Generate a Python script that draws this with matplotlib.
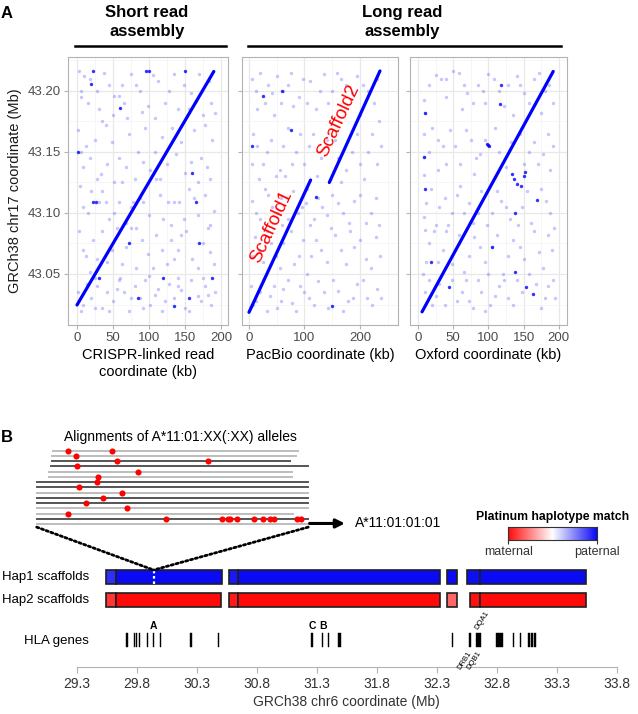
import matplotlib
matplotlib.use("Agg")
import matplotlib.pyplot as plt
import numpy as np
from matplotlib.colors import LinearSegmentedColormap, Normalize
from matplotlib.patches import Rectangle, ConnectionPatch
from matplotlib.lines import Line2D
from matplotlib.ticker import MultipleLocator

plt.rcParams['font.family'] = ['Liberation Sans', 'DejaVu Sans']

# ---------------- panel A data (x in kb, y in Mb on chr17) ----------------
crispr_lines = [([0, 190], [43.0246, 43.216])]
pacbio_lines = [([0, 111], [43.0186, 43.127]), ([144.7, 236], [43.125, 43.2164])]
oxford_lines = [([5.7, 192], [43.019, 43.216])]

crispr_noise = [
  (3, 43.216), (10, 43.212), (18, 43.21), (38, 43.215), (45, 43.205), (52, 43.196), (58, 43.196),
  (75, 43.214), (82, 43.205), (105, 43.213), (112, 43.208), (128, 43.2), (135, 43.214), (148, 43.205),
  (158, 43.198), (170, 43.214), (183, 43.208), (186, 43.19), (5, 43.195), (30, 43.185), (65, 43.19),
  (90, 43.183), (140, 43.185), (175, 43.18), (2, 43.168), (12, 43.155), (25, 43.16), (40, 43.172),
  (48, 43.158), (72, 43.165), (85, 43.15), (95, 43.17), (118, 43.162), (125, 43.14), (145, 43.158),
  (162, 43.168), (172, 43.145), (188, 43.16), (8, 43.138), (33, 43.132), (58, 43.145), (102, 43.135),
  (150, 43.133), (180, 43.138), (4, 43.122), (15, 43.1), (35, 43.118), (45, 43.095), (62, 43.125),
  (75, 43.105), (88, 43.112), (110, 43.128), (120, 43.095), (135, 43.109), (142, 43.109), (155, 43.12),
  (168, 43.098), (178, 43.115), (190, 43.102), (30, 43.109), (40, 43.109), (58, 43.109), (78, 43.109),
  (92, 43.109), (126, 43.109), (3, 43.085), (12, 43.065), (22, 43.078), (42, 43.06), (55, 43.088),
  (68, 43.072), (82, 43.055), (98, 43.066), (110, 43.082), (125, 43.058), (140, 43.07), (152, 43.085),
  (160, 43.062), (175, 43.075), (190, 43.058), (18, 43.052), (48, 43.07), (130, 43.078), (182, 43.088),
  (2, 43.035), (8, 43.025), (14, 43.042), (20, 43.03), (28, 43.04), (35, 43.022), (42, 43.035),
  (50, 43.028), (58, 43.045), (65, 43.035), (72, 43.02), (80, 43.04), (88, 43.03), (95, 43.045),
  (102, 43.025), (112, 43.038), (118, 43.02), (128, 43.042), (135, 43.03), (145, 43.037), (150, 43.022),
  (158, 43.045), (168, 43.032), (178, 43.04), (186, 43.025), (192, 43.035), (25, 43.047), (60, 43.047),
  (100, 43.048), (140, 43.047), (175, 43.047),
  (6, 43.2), (15, 43.19), (28, 43.2), (35, 43.175), (50, 43.18), (62, 43.205), (70, 43.178), (88, 43.2),
  (98, 43.188), (108, 43.178), (122, 43.19), (132, 43.17), (155, 43.185), (165, 43.192), (178, 43.172),
  (192, 43.182), (5, 43.15), (18, 43.145), (28, 43.128), (42, 43.14), (52, 43.125), (68, 43.138),
  (80, 43.128), (92, 43.142), (108, 43.15), (115, 43.128), (138, 43.148), (158, 43.142), (168, 43.125),
  (185, 43.128), (8, 43.105), (20, 43.118), (52, 43.1), (68, 43.092), (82, 43.088), (100, 43.098),
  (115, 43.115), (130, 43.09), (148, 43.095), (162, 43.112), (185, 43.09), (8, 43.07), (28, 43.062),
  (35, 43.085), (62, 43.058), (75, 43.088), (90, 43.078), (105, 43.055), (118, 43.07), (135, 43.062),
  (145, 43.082), (168, 43.055), (185, 43.068), (5, 43.02), (25, 43.022), (45, 43.02), (55, 43.038),
  (75, 43.03), (92, 43.022), (108, 43.033), (122, 43.028), (140, 43.04), (155, 43.02), (172, 43.028),
  (182, 43.033)]
crispr_strong = [
  (22, 43.216), (100, 43.216), (96, 43.216), (150, 43.216), (20, 43.206), (60, 43.186), (22, 43.109),
  (26, 43.109), (165, 43.109), (30, 43.047), (120, 43.047), (188, 43.047), (155, 43.03), (135, 43.024),
  (2, 43.15), (72, 43.075), (85, 43.03), (160, 43.133), (170, 43.075)]

pacbio_noise = [
  (5, 43.21), (20, 43.215), (35, 43.205), (50, 43.212), (62, 43.2), (75, 43.215), (90, 43.195),
  (110, 43.208), (135, 43.214), (150, 43.2), (165, 43.21), (185, 43.198), (205, 43.205), (225, 43.19),
  (235, 43.175), (15, 43.185), (45, 43.18), (80, 43.188), (120, 43.185), (200, 43.18), (8, 43.165),
  (25, 43.14), (40, 43.16), (55, 43.135), (70, 43.17), (85, 43.15), (100, 43.14), (115, 43.165),
  (130, 43.145), (155, 43.16), (175, 43.135), (195, 43.165), (215, 43.15), (230, 43.14), (18, 43.128),
  (65, 43.13), (105, 43.12), (165, 43.125), (208, 43.128), (5, 43.11), (20, 43.095), (35, 43.115),
  (50, 43.1), (60, 43.09), (80, 43.118), (95, 43.105), (110, 43.09), (125, 43.112), (140, 43.098),
  (160, 43.108), (180, 43.092), (200, 43.115), (220, 43.1), (235, 43.09), (10, 43.08), (25, 43.06),
  (40, 43.075), (55, 43.055), (75, 43.085), (90, 43.065), (105, 43.05), (120, 43.078), (140, 43.06),
  (155, 43.082), (175, 43.058), (190, 43.072), (210, 43.062), (228, 43.08), (3, 43.04), (12, 43.028),
  (25, 43.045), (38, 43.032), (50, 43.022), (62, 43.038), (78, 43.026), (92, 43.04), (108, 43.03),
  (125, 43.044), (142, 43.022), (160, 43.036), (178, 43.028), (195, 43.042), (212, 43.03), (230, 43.038),
  (12, 43.2), (28, 43.19), (42, 43.198), (58, 43.19), (70, 43.205), (98, 43.21), (105, 43.19),
  (128, 43.2), (142, 43.19), (158, 43.215), (175, 43.205), (195, 43.212), (215, 43.2), (230, 43.21),
  (5, 43.14), (15, 43.155), (32, 43.15), (48, 43.13), (62, 43.155), (78, 43.14), (92, 43.165),
  (108, 43.155), (122, 43.13), (140, 43.16), (160, 43.145), (185, 43.15), (200, 43.14), (222, 43.165),
  (238, 43.155), (12, 43.1), (28, 43.12), (42, 43.105), (58, 43.112), (70, 43.095), (88, 43.1),
  (102, 43.108), (118, 43.095), (132, 43.105), (150, 43.115), (170, 43.1), (190, 43.11), (210, 43.092),
  (228, 43.112), (5, 43.065), (18, 43.07), (32, 43.085), (48, 43.065), (62, 43.075), (82, 43.058),
  (98, 43.078), (112, 43.065), (130, 43.07), (148, 43.088), (165, 43.07), (182, 43.085), (200, 43.078),
  (220, 43.055), (236, 43.065), (8, 43.025), (20, 43.035), (32, 43.02), (45, 43.04), (58, 43.028),
  (70, 43.045), (85, 43.02), (100, 43.035), (118, 43.025), (135, 43.035), (152, 43.045), (170, 43.02),
  (188, 43.03), (205, 43.045), (222, 43.025), (238, 43.03)]
pacbio_strong = [(25, 43.196), (75, 43.168), (120, 43.113), (150, 43.024), (5, 43.155), (60, 43.2)]

oxford_noise = [
  (8, 43.193), (10, 43.182), (9, 43.146), (8, 43.131), (11, 43.108), (9, 43.097), (10, 43.086),
  (8, 43.165), (12, 43.06), (7, 43.05), (25, 43.213), (32, 43.21), (50, 43.216), (58, 43.215),
  (70, 43.198), (85, 43.205), (100, 43.214), (115, 43.2), (128, 43.205), (140, 43.212), (150, 43.198),
  (165, 43.21), (180, 43.2), (192, 43.19), (40, 43.195), (62, 43.185), (95, 43.19), (135, 43.18),
  (175, 43.182), (20, 43.17), (35, 43.155), (45, 43.168), (60, 43.14), (75, 43.16), (88, 43.148),
  (110, 43.17), (125, 43.138), (145, 43.165), (158, 43.15), (170, 43.14), (185, 43.165), (28, 43.135),
  (80, 43.132), (188, 43.135), (18, 43.12), (30, 43.105), (42, 43.09), (55, 43.115), (65, 43.1),
  (78, 43.092), (90, 43.118), (105, 43.1), (118, 43.11), (130, 43.095), (148, 43.105), (160, 43.092),
  (175, 43.12), (188, 43.1), (15, 43.075), (28, 43.06), (40, 43.085), (52, 43.07), (66, 43.052),
  (80, 43.08), (95, 43.06), (105, 43.072), (120, 43.05), (135, 43.078), (150, 43.062), (165, 43.085),
  (178, 43.055), (190, 43.07), (10, 43.035), (20, 43.025), (30, 43.042), (55, 43.028), (68, 43.045),
  (78, 43.022), (90, 43.035), (102, 43.025), (115, 43.04), (128, 43.03), (140, 43.045), (175, 43.022),
  (185, 43.04), (195, 43.03),
  (15, 43.205), (40, 43.21), (65, 43.205), (78, 43.19), (92, 43.2), (108, 43.21), (122, 43.188),
  (145, 43.205), (158, 43.19), (172, 43.215), (186, 43.205), (15, 43.15), (28, 43.16), (40, 43.14),
  (52, 43.155), (68, 43.168), (82, 43.145), (95, 43.16), (115, 43.15), (132, 43.158), (150, 43.14),
  (165, 43.158), (178, 43.148), (192, 43.155), (25, 43.09), (38, 43.112), (48, 43.1), (60, 43.122),
  (72, 43.108), (85, 43.1), (98, 43.09), (112, 43.118), (125, 43.105), (142, 43.09), (155, 43.118),
  (182, 43.11), (193, 43.088), (22, 43.085), (35, 43.07), (48, 43.058), (58, 43.082), (72, 43.065),
  (88, 43.072), (100, 43.05), (112, 43.082), (128, 43.065), (145, 43.072), (158, 43.05), (172, 43.068),
  (185, 43.082), (15, 43.045), (25, 43.032), (38, 43.025), (48, 43.045), (62, 43.035), (72, 43.028),
  (85, 43.045), (95, 43.02), (110, 43.032), (122, 43.045), (135, 43.025), (148, 43.035), (168, 43.042),
  (180, 43.03), (192, 43.045)]
oxford_strong = [
  (10, 43.182), (10, 43.12), (8, 43.146), (98.4, 43.1565), (99.5, 43.1555), (101, 43.1545),
  (133, 43.132), (136, 43.128), (140, 43.124), (146, 43.122), (150, 43.13), (152, 43.134),
  (138, 43.10), (138, 43.052), (105, 43.072), (116.5, 43.189), (168.5, 43.111), (44.5, 43.039),
  (154, 43.039), (163, 43.034), (18, 43.06), (118, 43.205)]

# ---------------- panel B data ----------------
# allele alignments (position in % of alignment length, rows top to bottom)
allele_row_start = [6.1, 5.5, 5.5, 5.2, 4.7, 4.7, 0, 0, 0, 0, 0, 0, 0, 0, 0]
allele_row_end = [96.3, 95.4, 93.3, 100, 94.0, 94.0, 100, 100, 100, 100, 100, 100, 94.5, 100, 100]
allele_row_dark = [0, 0, 1, 1, 0, 0, 1, 1, 0, 1, 1, 0, 0, 1, 0]
mismatch_row = [1, 1, 2, 3, 3, 4, 5, 6, 7, 8, 9, 10, 11, 12, 13] + [14] * 11
mismatch_pos = [11.7, 27.6, 14.4, 29.5, 63.2, 15.0, 37.4, 22.7, 22.1, 15.6, 31.3, 24.5, 18.2, 33.1, 11.7,
                47.5, 68.1, 70.3, 71.2, 73.9, 80.1, 83.2, 86.1, 87.3, 95.7, 97.3]
best_allele = 'A*11:01:01:01'

# scaffolds on chr6 (Mb) with haplotype match score (-1 maternal .. 1 paternal)
hap1_start = [29.546, 29.627, 30.573, 30.648, 32.385, 32.552, 32.663]
hap1_end = [29.627, 30.510, 30.648, 32.329, 32.468, 32.663, 33.546]
hap1_score = [0.85, 1, 0.93, 1, 1, 0.98, 1]
hap2_start = [29.546, 29.627, 30.573, 30.648, 32.385, 32.579, 32.663]
hap2_end = [29.627, 30.504, 30.648, 32.329, 32.468, 32.663, 33.546]
hap2_score = [-0.82, -1, -0.93, -1, -0.62, -0.97, -1]

gene_start = [29.713, 29.775, 29.792, 29.818, 29.887, 29.937, 29.995, 30.248, 30.476, 31.258, 31.343,
              31.392, 31.482, 32.427, 32.574, 32.630, 32.795, 32.934, 32.992, 33.062, 33.088, 33.110]
gene_end = [29.725, 29.785, 29.802, 29.830, 29.899, 29.949, 30.007, 30.260, 30.488, 31.270, 31.355,
            31.408, 31.500, 32.439, 32.587, 32.668, 32.850, 32.948, 33.004, 33.082, 33.106, 33.130]
gene_names_top = {'A': 29.943, 'C': 31.262, 'B': 31.354}
hla_a_pos = 29.943

# ---------------- layout helpers ----------------
W, H = 638, 714
fig = plt.figure(figsize=(W / 100, H / 100), dpi=100)

def px_axes(left, top, right, bottom):
  return fig.add_axes([left / W, 1 - bottom / H, (right - left) / W, (bottom - top) / H])

def fx(px):
  return px / W

def fy(py):
  return 1 - py / H

GREY = '#b3b3b3'

def dotplot(ax, noise, strong, lines, xlim, major, minor, xlabel, show_y):
  ax.set_xlim(*xlim)
  ax.set_ylim(43.0082, 43.2276)
  ax.xaxis.set_major_locator(MultipleLocator(major))
  ax.xaxis.set_minor_locator(MultipleLocator(minor))
  ax.yaxis.set_major_locator(MultipleLocator(0.05))
  ax.yaxis.set_minor_locator(MultipleLocator(0.025))
  ax.grid(which='major', color='#e8e8e8', lw=0.9)
  ax.grid(which='minor', color='#f3f3f3', lw=0.5)
  ax.set_axisbelow(True)
  for s in ax.spines.values():
    s.set_color(GREY)
    s.set_linewidth(0.8)
  ax.tick_params(which='major', length=3, color=GREY, labelsize=9.5, labelcolor='#4d4d4d', pad=2)
  ax.tick_params(which='minor', length=0)
  ax.yaxis.set_major_formatter(plt.FuncFormatter(lambda v, p: f'{v:.2f}'))
  ax.xaxis.set_major_formatter(plt.FuncFormatter(lambda v, p: f'{v:g}'))
  if not show_y:
    ax.tick_params(axis='y', labelleft=False)
  n = np.array(noise)
  ax.scatter(n[:, 0], n[:, 1], s=6, color='#3535ff', alpha=0.28, lw=0)
  st = np.array(strong)
  ax.scatter(st[:, 0], st[:, 1], s=6, color='#0000ff', alpha=0.8, lw=0)
  for xs, ys in lines:
    ax.plot(xs, ys, color='#0000ff', lw=2.3, solid_capstyle='round')
  ax.set_xlabel(xlabel, fontsize=10.5, labelpad=3, linespacing=1.25)

ax1 = px_axes(68, 57.3, 228, 325)
ax2 = px_axes(242, 57.3, 398, 325)
ax3 = px_axes(410, 57.3, 567, 325)
dotplot(ax1, crispr_noise, crispr_strong, crispr_lines, (-12.5, 209.7), 50, 25,
        'CRISPR-linked read\ncoordinate (kb)', True)
dotplot(ax2, pacbio_noise, pacbio_strong, pacbio_lines, (-12.6, 268.5), 100, 50,
        'PacBio coordinate (kb)', False)
dotplot(ax3, oxford_noise, oxford_strong, oxford_lines, (-11.4, 211.6), 50, 25,
        'Oxford coordinate (kb)', False)

ax2.text(41.4, 43.0885, 'Scaffold1', color='#ff0000', fontsize=13.5, rotation=65,
         ha='center', va='center', rotation_mode='anchor')
ax2.text(161, 43.1757, 'Scaffold2', color='#ff0000', fontsize=13.5, rotation=65,
         ha='center', va='center', rotation_mode='anchor')

fig.text(fx(15), fy(191), 'GRCh38 chr17 coordinate (Mb)', rotation=90, ha='center', va='center',
         fontsize=10.5, color='#1a1a1a')
fig.text(fx(7), fy(13), 'A', fontsize=12, fontweight='bold', ha='center', va='center')
fig.text(fx(147), fy(22), 'Short read\nassembly', ha='center', va='center', fontsize=12,
         fontweight='bold', linespacing=1.4)
fig.text(fx(402), fy(22), 'Long read\nassembly', ha='center', va='center', fontsize=12,
         fontweight='bold', linespacing=1.4)
fig.add_artist(Line2D([fx(75), fx(226)], [fy(46), fy(46)], color='black', lw=1.8))
fig.add_artist(Line2D([fx(248), fx(561)], [fy(46), fy(46)], color='black', lw=1.8))

# ---------------- panel B ----------------
fig.text(fx(7), fy(437), 'B', fontsize=12, fontweight='bold', ha='center', va='center')

cmap = LinearSegmentedColormap.from_list('hapmatch', ['#ff0a0a', '#ffffff', '#0a0af5'])
norm = Normalize(-1, 1)

# alignments block
ax_al = px_axes(30, 446, 460, 530)
ax_al.set_xlim(-2.47, 155.9)
ax_al.set_ylim(16.15, 0.10)
ax_al.axis('off')
for i, (s, e, d) in enumerate(zip(allele_row_start, allele_row_end, allele_row_dark)):
  ax_al.plot([s, e], [i + 1, i + 1], color='#555555' if d else '#bdbdbd', lw=1.4)
ax_al.plot(mismatch_pos, mismatch_row, 'o', color='#ff0000', ms=4.4, mec='none')
ax_al.text(53.1, -1.6, 'Alignments of A*11:01:XX(:XX) alleles', ha='center', va='center', fontsize=10)
ax_al.annotate('', xy=(113.5, 14.9), xytext=(100.5, 14.9),
               arrowprops=dict(arrowstyle='-|>', lw=2.2, color='black', mutation_scale=13,
                               shrinkA=0, shrinkB=0))
ax_al.text(117.2, 14.9, best_allele, ha='left', va='center', fontsize=10)

# chromosome tracks (y in px-like units: 0 = 672 px)
axB = px_axes(76.5, 560, 616.5, 667)
axB.set_xlim(29.3, 33.8)
axB.set_ylim(5, 112)
for side in ['top', 'right', 'left']:
  axB.spines[side].set_visible(False)
axB.spines['bottom'].set_color(GREY)
axB.set_yticks([])
xt = np.arange(29.3, 33.81, 0.5)
axB.set_xticks(xt)
axB.set_xticklabels([f'{v:.1f}' for v in xt])
axB.tick_params(axis='x', length=4, color=GREY, labelsize=10, labelcolor='#333333', pad=3)
axB.set_xlabel('GRCh38 chr6 coordinate (Mb)', fontsize=10, color='#333333', labelpad=3)

HAP1_Y, HAP2_Y, BAR_H = 88.3, 65.0, 13.7
for starts, ends, scores, y0 in [(hap1_start, hap1_end, hap1_score, HAP1_Y),
                                 (hap2_start, hap2_end, hap2_score, HAP2_Y)]:
  for s, e, sc in zip(starts, ends, scores):
    axB.add_patch(Rectangle((s, y0), e - s, BAR_H, facecolor=cmap(norm(sc)),
                            edgecolor='#1f1f1f', lw=1.2))

axB.plot([hla_a_pos, hla_a_pos], [HAP1_Y, HAP1_Y + BAR_H], color='white', lw=1.6,
         ls=(0, (1.2, 1.2)))

GENE_Y, GENE_H = 24.7, 14.6
for s, e in zip(gene_start, gene_end):
  axB.add_patch(Rectangle((s, GENE_Y), e - s, GENE_H, facecolor='black', edgecolor='black', lw=0.3))
for name, pos in gene_names_top.items():
  axB.text(pos, 46, name, ha='center', va='center', fontsize=7.5, fontweight='bold')
axB.text(32.630, 43, 'DQA1', rotation=57, ha='left', va='center', rotation_mode='anchor', fontsize=5.5)
axB.text(32.579, 20, 'DRB1', rotation=57, ha='right', va='center', rotation_mode='anchor', fontsize=5.5)
axB.text(32.663, 20, 'DQB1', rotation=57, ha='right', va='center', rotation_mode='anchor', fontsize=5.5)

axB.text(29.404, HAP1_Y + BAR_H / 2, 'Hap1 scaffolds', ha='right', va='center', fontsize=9.5)
axB.text(29.404, HAP2_Y + BAR_H / 2, 'Hap2 scaffolds', ha='right', va='center', fontsize=9.5)
axB.text(29.404, 31, 'HLA genes', ha='right', va='center', fontsize=9.5)

for xa in [0, 100]:
  con = ConnectionPatch(xyA=(xa, 15.6), coordsA=ax_al.transData,
                        xyB=(hla_a_pos, HAP1_Y + BAR_H), coordsB=axB.transData,
                        color='black', lw=2, ls=(0, (0.8, 1.0)))
  fig.add_artist(con)

# colour legend
ax_cb = px_axes(508.3, 526.7, 596.7, 540)
ax_cb.imshow(np.linspace(-1, 1, 256).reshape(1, -1), cmap=cmap, norm=norm, aspect='auto',
             extent=[0, 1, 0, 1])
ax_cb.set_xlim(0, 1)
ax_cb.set_yticks([])
ax_cb.set_xticks([0, 1])
ax_cb.set_xticklabels(['maternal', 'paternal'])
ax_cb.tick_params(axis='x', length=3, width=0.8, color='#333333', labelsize=9, labelcolor='#333333', pad=1)
for s in ax_cb.spines.values():
  s.set_color('#333333')
  s.set_linewidth(0.8)
ax_cb.set_title('Platinum haplotype match', fontsize=8.8, fontweight='bold', pad=5)

fig.savefig('out.png', dpi=100)
